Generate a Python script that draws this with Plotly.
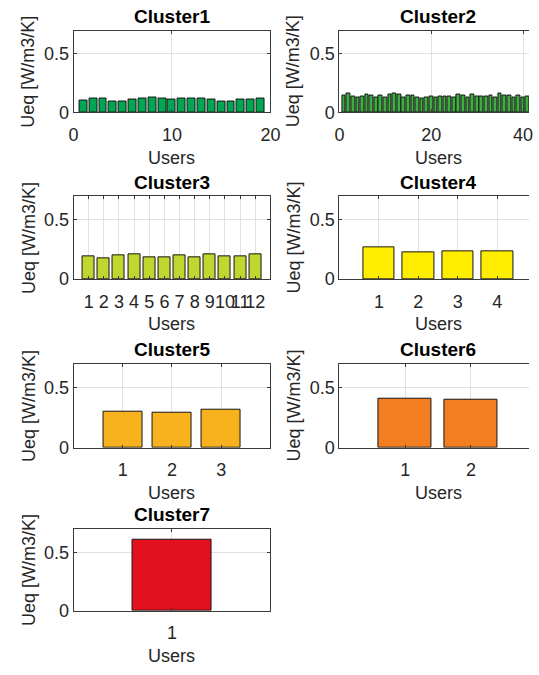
import plotly.graph_objects as go

# ---- data ----
cluster_names = ["Cluster1", "Cluster2", "Cluster3", "Cluster4", "Cluster5", "Cluster6", "Cluster7"]
cluster1 = [0.104, 0.121, 0.121, 0.090, 0.095, 0.109, 0.121, 0.123, 0.121, 0.109,
            0.118, 0.118, 0.115, 0.112, 0.090, 0.093, 0.107, 0.107, 0.115]
cluster2 = [0.143, 0.157, 0.137, 0.123, 0.132, 0.154, 0.143, 0.129, 0.146, 0.129,
            0.154, 0.160, 0.152, 0.129, 0.140, 0.146, 0.129, 0.121, 0.126, 0.135,
            0.123, 0.132, 0.135, 0.135, 0.126, 0.154, 0.143, 0.126, 0.152, 0.135,
            0.132, 0.135, 0.143, 0.129, 0.160, 0.143, 0.143, 0.129, 0.143, 0.126,
            0.137, 0.140]
cluster3 = [0.192, 0.175, 0.203, 0.208, 0.186, 0.183, 0.200, 0.183, 0.211, 0.194, 0.194, 0.206]
cluster4 = [0.269, 0.225, 0.239, 0.236]
cluster5 = [0.302, 0.294, 0.313]
cluster6 = [0.407, 0.401]
cluster7 = [0.602]
cluster_values = [cluster1, cluster2, cluster3, cluster4, cluster5, cluster6, cluster7]
cluster_colors = ["#00A651", "#3DAE3F", "#C1D72F", "#FFED00", "#F8B21E", "#F37E22", "#E3101E"]
x_tick_sets = [[0, 10, 20], [0, 20, 40], None, None, None, None, None]
y_ticks = [0, 0.5]
y_tick_text = ["0", "0.5"]
y_max = 0.7
x_label = "Users"
y_label = "Ueq [W/m3/K]"

# ---- layout geometry (pixels) ----
W, H = 539, 675
col_px = [(70.5, 273.0), (344.0, 547.0)]      # full axes extents (right one cropped by window)
row_px = [(31.0, 114.0), (199.3, 283.3), (369.2, 454.5), (536.7, 620.0)]
FONT = "Arial, Liberation Sans, sans-serif"
AX = "#3a3a3a"
GRID = "#e1e1e1"
TXT = "#262626"

fig = go.Figure()
annotations = []

for i, (name, vals, col) in enumerate(zip(cluster_names, cluster_values, cluster_colors)):
    r, c = divmod(i, 2)
    n = len(vals)
    xs = list(range(1, n + 1))
    xa = "x" if i == 0 else f"x{i+1}"
    ya = "y" if i == 0 else f"y{i+1}"
    fig.add_trace(go.Bar(x=xs, y=vals, width=0.8, xaxis=xa, yaxis=ya,
                         marker=dict(color=col, line=dict(color="#151515", width=1)),
                         showlegend=False, hoverinfo="x+y"))
    x0p, x1p = col_px[c]
    visible_right = min(x1p, W)
    xmax = (n + 1) * (visible_right - x0p) / (x1p - x0p)
    top, bot = row_px[r]
    xd = [x0p / W, visible_right / W]
    yd = [1 - bot / H, 1 - top / H]
    tv = x_tick_sets[i] if x_tick_sets[i] is not None else xs
    xkey = "xaxis" if i == 0 else f"xaxis{i+1}"
    ykey = "yaxis" if i == 0 else f"yaxis{i+1}"
    fig.update_layout({
        xkey: dict(domain=xd, anchor=ya, range=[0, xmax], tickvals=tv,
                   ticktext=[str(v) for v in tv], tickangle=0,
                   showline=True, linecolor=AX, linewidth=1,
                   mirror="ticks", ticks="inside", ticklen=3, tickcolor=AX,
                   ticklabelstandoff=6,
                   showgrid=True, gridcolor=GRID, gridwidth=1, zeroline=False,
                   tickfont=dict(family=FONT, size=18, color=TXT),
                   fixedrange=True),
        ykey: dict(domain=yd, anchor=xa, range=[0, y_max], tickvals=y_ticks,
                   ticktext=y_tick_text,
                   showline=True, linecolor=AX, linewidth=1,
                   mirror=("ticks" if c == 0 else False), ticks="inside", ticklen=3, tickcolor=AX,
                   showgrid=True, gridcolor=GRID, gridwidth=1, zeroline=False,
                   tickfont=dict(family=FONT, size=18, color=TXT),
                   fixedrange=True),
    })
    cx = (x0p + x1p) / 2
    annotations.append(dict(text=f"<b>{name}</b>", x=cx / W, y=1 - (top - 14) / H,
                            xref="paper", yref="paper", xanchor="center", yanchor="middle",
                            showarrow=False, font=dict(family=FONT, size=19, color="#000000")))
    annotations.append(dict(text=x_label, x=cx / W, y=1 - (bot + 46) / H,
                            xref="paper", yref="paper", xanchor="center", yanchor="middle",
                            showarrow=False, font=dict(family=FONT, size=18, color=TXT)))
    ylx = 24 if c == 0 else 297
    annotations.append(dict(text=y_label, x=ylx / W, y=1 - ((top + bot) / 2) / H,
                            xref="paper", yref="paper", xanchor="center", yanchor="middle",
                            textangle=-90, showarrow=False,
                            font=dict(family=FONT, size=18, color=TXT)))

fig.update_layout(width=W, height=H, margin=dict(l=0, r=0, t=0, b=0),
                  paper_bgcolor="white", plot_bgcolor="white",
                  bargap=0, annotations=annotations)

fig.write_html("out.html")
